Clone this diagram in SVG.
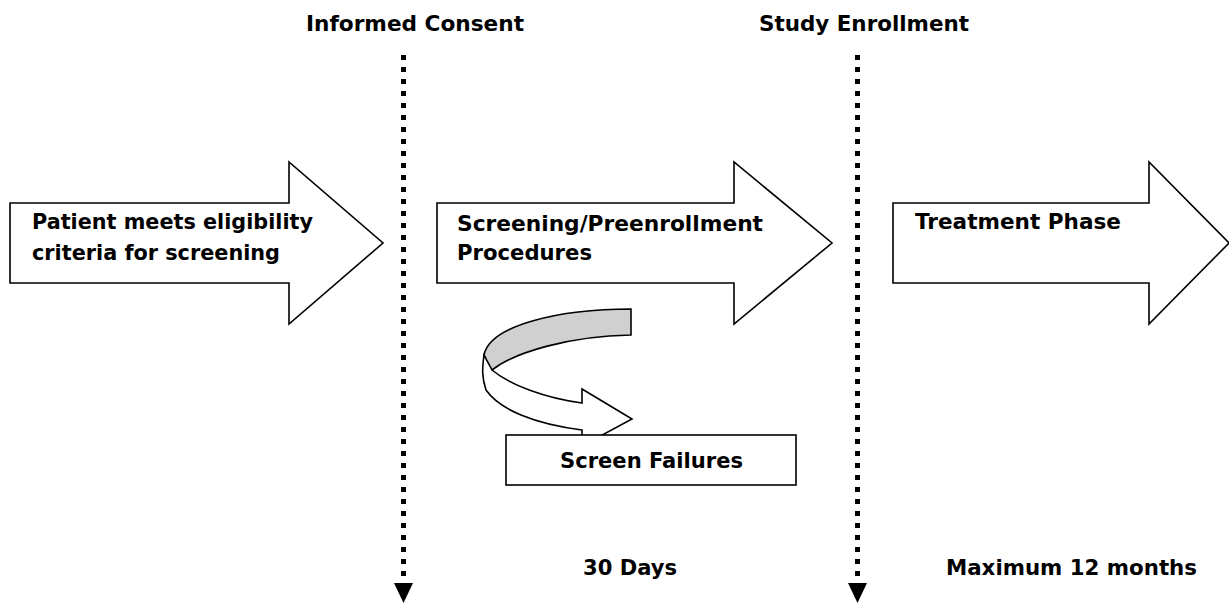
<svg xmlns="http://www.w3.org/2000/svg" width="1229" height="603" viewBox="0 0 1229 603">
<defs>
<style>
.shape{fill:#fff;stroke:#000;stroke-width:1.6;stroke-linejoin:miter}
.gray{fill:#d0d0d0;stroke:#000;stroke-width:1.6}
.dot{stroke:#000;stroke-width:5;stroke-dasharray:5 7;fill:none}
.t{font-family:"DejaVu Sans",Verdana,sans-serif;font-weight:bold;font-size:22px;fill:#000}
</style>
</defs>
<rect width="1229" height="603" fill="#fff"/>
<g id="connectors">
<line class="dot" x1="403.5" y1="55" x2="403.5" y2="582"/>
<polygon points="394,583 413,583 403.5,603" fill="#000"/>
<line class="dot" x1="857.5" y1="55" x2="857.5" y2="582"/>
<polygon points="848,583 867,583 857.5,603" fill="#000"/>
</g>
<g id="label-consent"><text class="t" x="306" y="31" textLength="218" lengthAdjust="spacingAndGlyphs">Informed Consent</text></g>
<g id="label-enrollment"><text class="t" x="759" y="31" textLength="210" lengthAdjust="spacingAndGlyphs">Study Enrollment</text></g>
<g id="arrow-eligibility">
<path class="shape" d="M10,203 L289,203 L289,162 L383,243 L289,324 L289,283 L10,283 Z"/>
<text class="t" x="32" y="229" textLength="281" lengthAdjust="spacingAndGlyphs">Patient meets eligibility</text>
<text class="t" x="32" y="260" textLength="248" lengthAdjust="spacingAndGlyphs">criteria for screening</text>
</g>
<g id="arrow-screening">
<path class="shape" d="M437,203 L734,203 L734,162 L832,243 L734,324 L734,283 L437,283 Z"/>
<text class="t" x="457" y="231" textLength="306" lengthAdjust="spacingAndGlyphs">Screening/Preenrollment</text>
<text class="t" x="457" y="260" textLength="135" lengthAdjust="spacingAndGlyphs">Procedures</text>
</g>
<g id="arrow-treatment">
<path class="shape" d="M893,203 L1149,203 L1149,162 L1229,243 L1149,324 L1149,283 L893,283 Z"/>
<text class="t" x="915" y="229" textLength="206" lengthAdjust="spacingAndGlyphs">Treatment Phase</text>
</g>
<g id="curved-arrow">
<path class="gray" d="M631,309 C560,309 490,325 484,355 C486,362 488,366 492,370 C515,352 570,336 631,335 Z"/>
<path class="shape" d="M484,355 C482,370 482,378 486,390 C500,410 535,424 582,430 L582,446 L632,419 L582,389 L582,403 C545,398 510,385 492,370 Z"/>
</g>
<g id="screen-failures">
<rect class="shape" x="506" y="435" width="290" height="50"/>
<text class="t" x="560" y="468" textLength="183" lengthAdjust="spacingAndGlyphs">Screen Failures</text>
</g>
<g id="label-30days"><text class="t" x="583" y="575" textLength="94" lengthAdjust="spacingAndGlyphs">30 Days</text></g>
<g id="label-12months"><text class="t" x="946" y="575" textLength="251" lengthAdjust="spacingAndGlyphs">Maximum 12 months</text></g>
</svg>
